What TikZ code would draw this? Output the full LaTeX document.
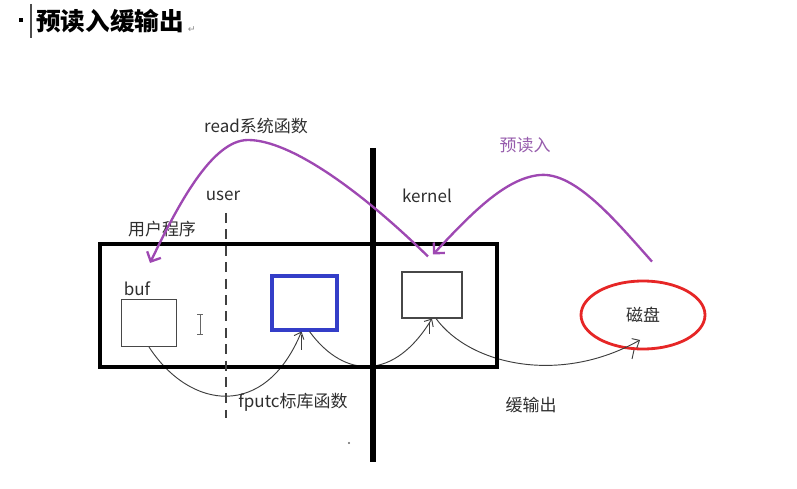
\documentclass[tikz,border=0pt]{standalone}
\usepackage{fontspec}
\setmainfont{Noto Sans CJK SC}
\newfontfamily\symfont{DejaVu Sans}
\usepackage{tikz}
\usetikzlibrary{arrows.meta,positioning,calc,shapes.geometric}
\usepackage{xcolor}
\definecolor{readpurple}{RGB}{158,72,178}
\definecolor{lblpurple}{RGB}{150,92,172}
\definecolor{diskred}{RGB}{230,38,38}
\definecolor{bufblue}{RGB}{52,62,200}
\definecolor{inkgray}{RGB}{62,62,62}
\def\pxu{0.03cm}

\begin{document}
\begin{tikzpicture}[
  x=\pxu, y=-\pxu,
  lbl/.style={font=\fontsize{14.5}{17}\selectfont, text=black!82, inner sep=0pt},
  hd/.style={font=\fontsize{21}{24}\selectfont\bfseries, inner sep=0pt, anchor=west},
  cell/.style={draw=black!72, line width=0.9pt, inner sep=0pt},
  bluecell/.style={draw=bufblue, line width=2.6pt, inner sep=0pt},
  frame/.style={draw=black, line width=4.2pt, inner sep=0pt},
  wall/.style={black, line width=4.3pt},
  split/.style={black!75, line width=1.4pt, dash pattern=on 8.5pt off 5.5pt},
  disk/.style={ellipse, draw=diskred, line width=2.4pt, inner sep=0pt, lbl},
  flow/.style={-{Straight Barb[length=5pt,width=9pt]}, line width=0.8pt, inkgray},
  tick/.style={line width=0.8pt, inkgray},
  rd/.style={-{Straight Barb[length=6.5pt,width=13pt]}, line width=2pt, readpurple},
]
\useasboundingbox (0,0) rectangle (797,489);

%% ---- TITLE ----
\node[fill=black, minimum size=4*\pxu, inner sep=0pt] (bullet) at (21,20) {};
\draw[black!70, line width=0.9pt] (31,4) -- (31,38);
\node[hd] (title) at (36,21) {预读入缓输出};
\node[right=3pt of title.south east, anchor=south west, font=\symfont\fontsize{8}{9}\selectfont, text=black!45, inner sep=0pt] (ret) {↵};

%% ---- BUFFERS ----
\node[cell, minimum width=55*\pxu, minimum height=47*\pxu] (buf) at (149,323) {};
\node[bluecell, minimum width=65*\pxu, minimum height=54*\pxu] (usrbuf) at (304.5,303) {};
\node[cell, minimum width=60*\pxu, minimum height=46*\pxu] (kbuf) at (432,295) {};
\node[disk, minimum width=124*\pxu, minimum height=68*\pxu] (disk) at (643,315) {磁盘};

%% ---- fputc / flush arrows (under the frame) ----
\draw[flow] (buf.south) .. controls (190,410) and (265,420) .. ($(usrbuf.south)+(-3,0)$);
\draw[flow] ($(usrbuf.south)+(5,0)$) .. controls (345,380) and (395,380) .. (kbuf.south);
\draw[flow] ($(kbuf.south)+(4,0)$) .. controls (470,365) and (560,385) .. ($(disk.center)+(-3,25)$);
\foreach \a/\dy/\len in {usrbuf/3/15, kbuf/4/11}{
  \draw[tick] ($(\a.south)+(-3,\dy)$) -- ++(0,\len);
}
\draw[tick] ($(disk.center)+(-9,35)$) -- ++(-2,9);

%% ---- PROCESS FRAME, user/kernel split ----
\node[frame, minimum width=397*\pxu, minimum height=123*\pxu] (proc) at (298.5,305.5) {};
\coordinate (wtop) at (373,148);
\coordinate (wbot) at (373,462);
\draw[wall] (wtop) -- (wbot);
\coordinate (dtop) at (226,213);
\coordinate (dbot) at (226,418);
\draw[split] (dtop) -- (dbot);

%% ---- LABELS ----
\node[lbl] (readlbl)  at (256,126) {read系统函数};
\node[lbl] (userlbl)  at (223,196) {user};
\node[lbl] (kernlbl)  at (427,196) {kernel};
\node[lbl] (proglbl)  at (162,229) {用户程序};
\node[lbl] (buflbl)   at (137,289) {buf};
\node[lbl] (fputclbl) at (293,402) {fputc标库函数};
\node[lbl, text=lblpurple] (prelbl) at (525,145) {预读入};
\node[lbl] (outlbl)   at (531,405) {缓输出};

%% ---- read() and read-ahead ----
\draw[rd] ($(kbuf.north)+(-4,-15)$) .. controls (360,190) and (290,140) .. (248,140)
          .. controls (212,140) and (178,205) .. ($(buf.north)+(1,-36)$);
\draw[rd] ($(disk.north)+(9,-18)$) .. controls (615,220) and (575,172) .. (540,175)
          .. controls (505,178) and (470,215) .. ($(kbuf.north)+(1,-17)$);

%% ---- screen marks ----
\draw[black!60, line width=0.8pt] (200,314) -- (200,334) (197,314) -- (203,314) (197,334) -- (203,334);
\fill[black!60] (349,443) circle (1pt);

\end{tikzpicture}
\end{document}
